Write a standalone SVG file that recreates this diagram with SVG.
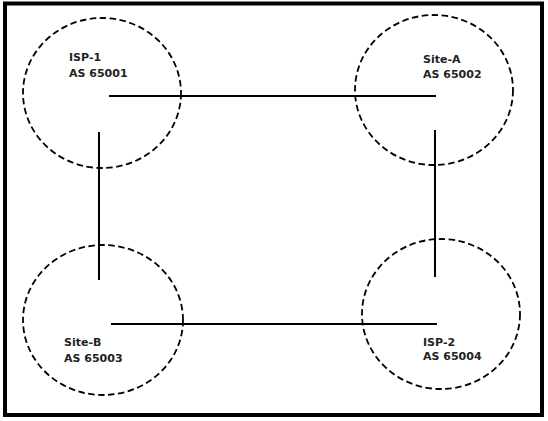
<svg xmlns="http://www.w3.org/2000/svg" width="548" height="421" viewBox="0 0 548 421">
<style>
.ring{fill:none;stroke:#000;stroke-width:1.8;stroke-dasharray:6.5 3.5}
.lbl{font-family:"DejaVu Sans",Verdana,sans-serif;font-size:11px;font-weight:bold;fill:#222}
.link{stroke:#000;stroke-width:2;fill:none}
</style>
<rect x="0" y="0" width="548" height="421" fill="#fff"/>
<rect x="5" y="3.5" width="537" height="411.5" fill="none" stroke="#000" stroke-width="4"/>
<g id="connectors">
<line class="link" x1="109" y1="96" x2="436" y2="96"/>
<line class="link" x1="99" y1="132" x2="99" y2="280"/>
<line class="link" x1="435" y1="130" x2="435" y2="277"/>
<line class="link" x1="111" y1="324" x2="437" y2="324"/>
</g>
<g id="isp1">
<ellipse class="ring" cx="102" cy="93" rx="79" ry="75"/>
<text class="lbl" x="69" y="61">ISP-1</text>
<text class="lbl" x="69" y="77">AS 65001</text>
</g>
<g id="siteA">
<ellipse class="ring" cx="434" cy="90" rx="79" ry="75"/>
<text class="lbl" x="423" y="63">Site-A</text>
<text class="lbl" x="423" y="78">AS 65002</text>
</g>
<g id="siteB">
<ellipse class="ring" cx="103" cy="320" rx="80" ry="75"/>
<text class="lbl" x="64" y="346">Site-B</text>
<text class="lbl" x="64" y="362">AS 65003</text>
</g>
<g id="isp2">
<ellipse class="ring" cx="441" cy="314" rx="79" ry="75"/>
<text class="lbl" x="423" y="346">ISP-2</text>
<text class="lbl" x="423" y="360">AS 65004</text>
</g>
</svg>
